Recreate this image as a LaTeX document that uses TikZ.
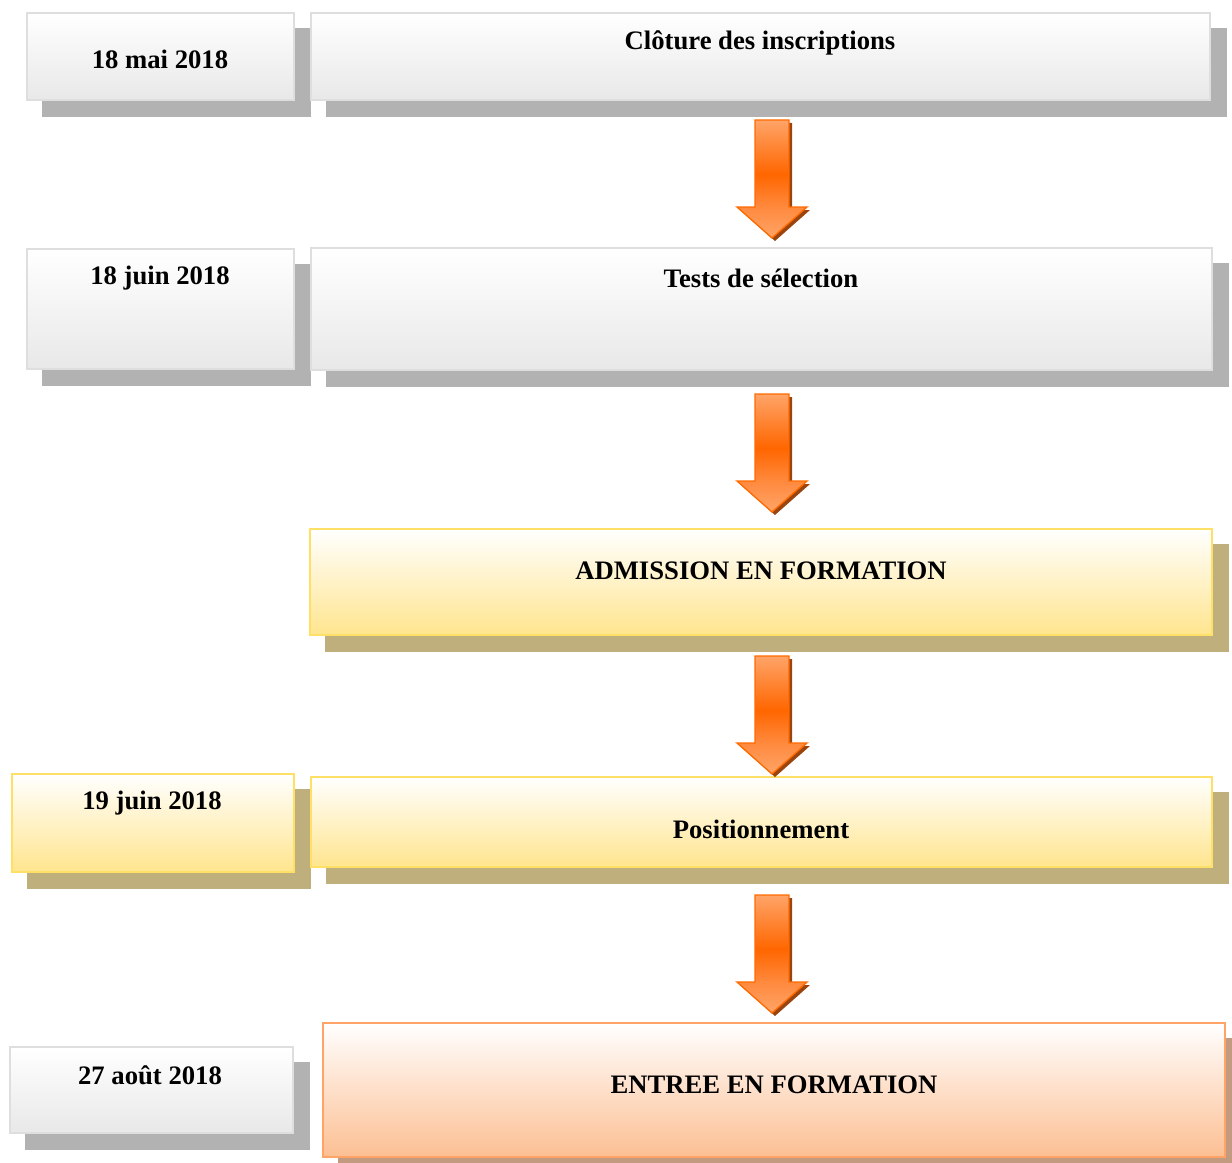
\documentclass[tikz,border=0pt]{standalone}
\usepackage{fontspec}
\setmainfont{Liberation Serif}
\usetikzlibrary{fit}
\pgfdeclarelayer{bg}
\pgfsetlayers{bg,main}
\definecolor{greyborder}{HTML}{DEDEDE}
\definecolor{greybot}{HTML}{E8E8E8}
\definecolor{greyshadow}{HTML}{B2B2B2}
\definecolor{yelborder}{HTML}{FFE066}
\definecolor{yelbot}{HTML}{FFE58E}
\definecolor{yelmid}{HTML}{FFF4CF}
\definecolor{yelshadow}{HTML}{BFAF7D}
\definecolor{orborder}{HTML}{FFA466}
\definecolor{orbot}{HTML}{FCBF93}
\definecolor{ormid}{HTML}{FEE3D1}
\definecolor{orshadow}{HTML}{C19A7F}
\definecolor{arrlight}{HTML}{FFA468}
\definecolor{arrmid}{HTML}{FF8A3E}
\definecolor{arrdark}{HTML}{FF6600}
\definecolor{arrline}{HTML}{FF6A00}
\definecolor{arrshadow}{HTML}{9A4410}
\pgfdeclareverticalshading{arrshade}{100bp}{color(0bp)=(arrlight); color(25bp)=(arrlight); color(38bp)=(arrmid); color(52bp)=(arrdark); color(75bp)=(arrlight); color(100bp)=(arrlight)}
\tikzset{
  x=0.75pt, y=-0.75pt,
  boxbase/.style={inner sep=0pt, line width=2.2pt},
  greybox/.style={boxbase, draw=greyborder, top color=white, bottom color=greybot},
  yelbox/.style={boxbase, draw=yelborder, top color=white, middle color=yelmid, bottom color=yelbot},
  orbox/.style={boxbase, draw=orborder, top color=white, middle color=ormid, bottom color=orbot},
  label/.style={font=\bfseries\fontsize{20}{24}\selectfont, inner sep=0pt, text=black, yshift=-2pt},
  blockarrow/.pic={
    \fill[arrshadow] (-14,3) -- (20,3) -- (20,90) -- (38,90) -- (3,121) -- (-32,90) -- (-14,90) -- cycle;
    \path[shading=arrshade, draw=arrline, line width=1pt]
      (-17,0) -- (17,0) -- (17,87) -- (35,87) -- (0,118) -- (-35,87) -- (-17,87) -- cycle;
  }
}
\begin{document}
\begin{tikzpicture}
\useasboundingbox (0,0) rectangle (1232,1163);
% boxes
\node[greybox, fit={(27,13) (294,100)}] (d1) {};
\node[greybox, fit={(311,13) (1210,100)}] (m1) {};
\node[greybox, fit={(27,249) (294,369)}] (d2) {};
\node[greybox, fit={(311,248) (1212,370)}] (m2) {};
\node[yelbox, fit={(310,529) (1212,635)}] (m3) {};
\node[yelbox, fit={(12,774) (294,872)}] (d4) {};
\node[yelbox, fit={(311,777) (1212,867)}] (m4) {};
\node[greybox, fit={(10,1047) (293,1133)}] (d5) {};
\node[orbox, fit={(323,1023) (1225,1157)}] (m5) {};
% shadows
\begin{pgfonlayer}{bg}
\foreach \b/\c in {d1/greyshadow, m1/greyshadow, d2/greyshadow, m2/greyshadow, m3/yelshadow, d4/yelshadow, m4/yelshadow, d5/greyshadow, m5/orshadow}{
  \fill[\c] ([shift={(16,16)}]\b.north west) rectangle ([shift={(16,16)}]\b.south east);
}
\end{pgfonlayer}
% texts
\node[label] (t1) at (160,57) {18 mai 2018};
\node[label] (t2) at (760,40) {Clôture des inscriptions};
\node[label] (t3) at (160,275) {18 juin 2018};
\node[label] (t4) at (761,276) {Tests de sélection};
\node[label] (t5) at (761,568) {ADMISSION EN FORMATION};
\node[label] (t6) at (152,800) {19 juin 2018};
\node[label] (t7) at (761,827) {Positionnement};
\node[label] (t8) at (150,1073) {27 août 2018};
\node[label] (t9) at (774,1082) {ENTREE EN FORMATION};
% arrows
\coordinate (a1) at (772,120);
\coordinate (a2) at (772,394);
\coordinate (a3) at (772,656);
\coordinate (a4) at (772,895);
\foreach \a in {a1,a2,a3,a4}{ \pic at (\a) {blockarrow}; }
\end{tikzpicture}
\end{document}
